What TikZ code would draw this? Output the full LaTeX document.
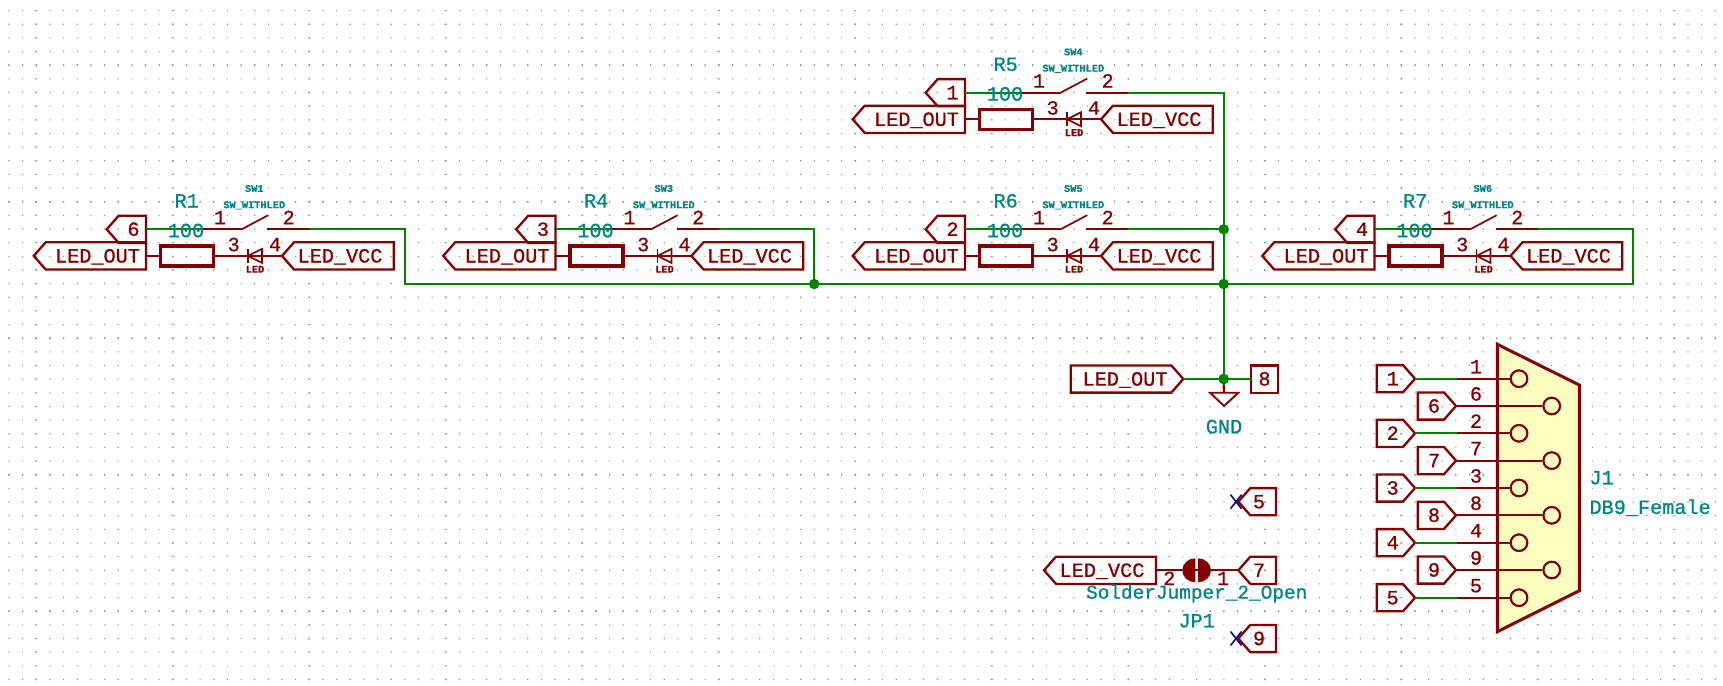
\documentclass[tikz,border=0pt]{standalone}
\usepackage{fontspec}
\newfontfamily\kfont[FakeBold=0.8]{Liberation Mono}
\newfontfamily\ksmall[FakeBold=0.8]{Liberation Mono Bold}
\definecolor{kred}{HTML}{840000}
\definecolor{kgreen}{HTML}{008400}
\definecolor{kteal}{HTML}{008484}
\definecolor{knavy}{HTML}{000084}
\definecolor{kfill}{HTML}{FFFFC2}
\definecolor{kdot}{HTML}{8C8C8C}
\tikzset{
  hierbox/.style={draw=kred,line width=2.3pt,line join=miter},
  wire/.style={draw=kgreen,line width=2.2pt,line join=miter},
  pinline/.style={draw=kred,line width=2.2pt},
  thinred/.style={draw=kred,line width=1.7pt},
  bigtxt/.style={font=\kfont\fontsize{20.2}{24}\selectfont,inner sep=0pt,anchor=base},
  smalltxt/.style={font=\kfont\bfseries\fontsize{10.3}{12}\selectfont,inner sep=0pt,anchor=base},
  symtxt/.style={bigtxt,text=kred},
  reftxt/.style={bigtxt,text=kteal},
  reftxtw/.style={bigtxt,text=kteal,anchor=base west},
  narrowtxt/.style={reftxt,font=\kfont\fontsize{19.4}{24}\selectfont},
  smalltxtr/.style={smalltxt,text=kred},
  smalltxtt/.style={smalltxt,text=kteal},
  junction/.style={circle,fill=kgreen,inner sep=0pt,minimum size=10.5pt},
  pincircle/.style={draw=kred,line width=2pt,fill=kfill,circle,inner sep=0pt,minimum size=16.5pt}
}
% big text centred vertically on cap height: name, x, y, style, text
\newcommand{\bt}[5]{\node[#4] (#1) at (#2,{#3+6.6}) {#5};}
\newcommand{\st}[5]{\node[#4] (#1) at (#2,{#3+3.3}) {#5};}
% hierarchical label pointing left: name, tipx, y, rightx, textx, text
\newcommand{\hierL}[6]{%
  \draw[hierbox] (#2,#3) -- ({#2+12},{#3-13.6}) -- (#4,{#3-13.6}) -- (#4,{#3+13.6}) -- ({#2+12},{#3+13.6}) -- cycle;
  \bt{#1}{#5}{#3}{symtxt}{#6}
  \coordinate (#1-tip) at (#2,#3);
  \coordinate (#1-end) at (#4,#3);}
% hierarchical label pointing right: name, leftx, y, tipx, textx, text
\newcommand{\hierR}[6]{%
  \draw[hierbox] (#2,{#3-13.6}) -- ({#4-12},{#3-13.6}) -- (#4,#3) -- ({#4-12},{#3+13.6}) -- (#2,{#3+13.6}) -- cycle;
  \bt{#1}{#5}{#3}{symtxt}{#6}
  \coordinate (#1-tip) at (#4,#3);}
% switch block: id, dx, dy, label number, ref R, ref SW
\newcommand{\swblock}[6]{%
 \begin{scope}[shift={(#2,#3)}]
  \hierL{#1-num}{925.7}{92.7}{965}{952.5}{#4}
  \hierL{#1-out}{852.7}{119.3}{965}{916.5}{LED\_OUT}
  \hierL{#1-vcc}{1101}{119.3}{1212.7}{1159}{LED\_VCC}
  \coordinate (#1-p1) at (1019.6,92.7);
  \coordinate (#1-a) at (1060.6,92.7);
  \coordinate (#1-b) at (1087,78.7);
  \coordinate (#1-c) at (1086,92.7);
  \coordinate (#1-p2) at (1128,92.7);
  \draw[wire] (#1-num-end) -- (#1-p1);
  \draw[pinline] (#1-p1) -- (#1-a);
  \draw[thinred] (#1-a) -- (#1-b);
  \draw[pinline] (#1-c) -- (#1-p2);
  \node[draw=kred,line width=3.2pt,minimum width=53pt,minimum height=20pt,inner sep=0pt] (#1-res) at (1006,119.3) {};
  \draw[pinline] (#1-out-end) -- (#1-res.west);
  \draw[pinline] (#1-res.east) -- (#1-vcc-tip);
  \draw[thinred] (1067,112.3) -- (1067,126.3);
  \draw[thinred] (1067,119.3) -- (1081,112.3) -- (1081,126.3) -- cycle;
  \bt{#1-rn}{1005.7}{64.3}{reftxt}{#5}
  \bt{#1-rv}{1005}{94}{reftxt}{100}
  \bt{#1-n1}{1039}{81}{symtxt}{1}
  \bt{#1-n2}{1107.7}{81}{symtxt}{2}
  \bt{#1-n3}{1052.7}{108}{symtxt}{3}
  \bt{#1-n4}{1094}{108}{symtxt}{4}
  \st{#1-sw}{1073.3}{52}{smalltxtt}{#6}
  \st{#1-swv}{1073.3}{68.3}{smalltxtt}{SW\_WITHLED}
  \st{#1-led}{1074}{132.7}{smalltxtr}{LED}
 \end{scope}}
% DB9 pin: id, pin y, number
\newcommand{\dbodd}[3]{%
  \node[pincircle] (pin#3) at (1519,#2) {};
  \hierR{lab#3}{1376.7}{#2}{1415}{1392.7}{#3}
  \coordinate (pinstart#3) at (1457.3,#2);
  \draw[wire] (lab#3-tip) -- (pinstart#3);
  \draw[pinline] (pinstart#3) -- (pin#3.west);
  \bt{num#3}{1476}{#2-12}{symtxt}{#3}}
\newcommand{\dbeven}[3]{%
  \node[pincircle] (pin#3) at (1551.7,#2) {};
  \hierR{lab#3}{1417.7}{#2}{1456}{1434}{#3}
  \draw[pinline] (lab#3-tip) -- (pin#3.west);
  \bt{num#3}{1476}{#2-12}{symtxt}{#3}}
\begin{document}
\begin{tikzpicture}[x=1pt,y=-1pt]
\useasboundingbox (0,0) rectangle (1723,685);
\fill[white] (0,0) rectangle (1723,685);
% grid
\fill[kdot] \foreach \i in {0,...,125}{ \foreach \j in {0,...,49}{
  ({9+\i*13.65-0.55},{10.6+\j*13.65-0.55}) rectangle ++(1.1,1.1) } };
\fill[kdot] \foreach \i in {0,...,12}{ \foreach \j in {0,...,49}{
  ({36.3+\i*136.5-0.9},{10.6+\j*13.65-0.55}) rectangle ++(1.8,1.1) } };
\fill[kdot] \foreach \j in {0,...,4}{ \foreach \i in {0,...,125}{
  ({9+\i*13.65-0.55},{65.2+\j*136.5-0.9}) rectangle ++(1.1,1.8) } };
% switch blocks
\swblock{R5}{0}{0}{1}{R5}{SW4}
\swblock{R6}{0}{136.6}{2}{R6}{SW5}
\swblock{R1}{-819}{136.6}{6}{R1}{SW1}
\swblock{R4}{-409.5}{136.6}{3}{R4}{SW3}
\swblock{R7}{409.5}{136.6}{4}{R7}{SW6}
% bus and junctions
\node[junction] (j6) at (1223.7,229.3) {};
\node[junction] (jb1) at (814.2,284) {};
\node[junction] (jb2) at (1223.7,284) {};
\node[junction] (jg) at (1223.7,379) {};
\coordinate (cornerR1) at (404.7,284);
\coordinate (cornerR7) at (1633.2,284);
\draw[wire] (R5-p2) -| (jg.center);
\draw[wire] (R6-p2) -- (j6.center);
\draw[wire] (R1-p2) -| (cornerR1) -- (cornerR7) |- (R7-p2);
\draw[wire] (R4-p2) -| (jb1.center);
% LED_OUT / GND / 8
\hierR{ledout}{1070.7}{379}{1183.3}{1125}{LED\_OUT}
\draw[hierbox] (1250.7,365.6) rectangle (1278.3,392.8);
\bt{lab8box}{1264.5}{379}{symtxt}{8}
\coordinate (lab8box-w) at (1250.7,379);
\draw[wire] (ledout-tip) -- (jg.center) -- (lab8box-w);
\node[junction] at (jg) {};
\coordinate (gndtop) at (1224,392.7);
\draw[pinline] (jg.south) -- (gndtop);
\draw[hierbox,line width=1.9pt] (1210,392.7) -- (1238.3,392.7) -- (1224,406) -- cycle;
\bt{gnd}{1224}{426.7}{reftxt}{GND}
% no connects
\hierL{nc5}{1238.3}{501.7}{1276}{1259}{5}
\hierL{nc9}{1238.3}{638.5}{1276}{1259}{9}
\foreach \yy in {501.7,638.5}{
  \draw[draw=knavy,line width=1.5pt] (1230.5,\yy-7) -- (1241.5,\yy+7);
  \draw[draw=knavy,line width=1.5pt] (1230.5,\yy+7) -- (1241.5,\yy-7);
}
% solder jumper
\hierL{jpvcc}{1044}{570.3}{1156}{1102}{LED\_VCC}
\hierL{lab7j}{1238.3}{570.3}{1276}{1259}{7}
\draw[pinline] (jpvcc-end) -- (lab7j-tip);
\fill[kred] (1195.3,582.3) arc[start angle=90,end angle=270,x radius=13,y radius=12] -- cycle;
\fill[kred] (1198,582.3) arc[start angle=90,end angle=-90,x radius=13,y radius=12] -- cycle;
\bt{jp2}{1169.3}{578.5}{symtxt}{2}
\bt{jp1}{1223}{578.5}{symtxt}{1}
\bt{jpv}{1196.7}{592}{narrowtxt}{SolderJumper\_2\_Open}
\bt{jpr}{1196.7}{620.7}{reftxt}{JP1}
% DB9
\path[fill=kfill] (1497.3,344.3) -- (1579.3,385) -- (1579.3,590.7) -- (1497.3,631.7) -- cycle;
\dbodd{a}{378.7}{1}
\dbeven{b}{406}{6}
\dbodd{c}{433.3}{2}
\dbeven{d}{460.6}{7}
\dbodd{e}{488}{3}
\dbeven{f}{515.3}{8}
\dbodd{g}{542.7}{4}
\dbeven{h}{570}{9}
\dbodd{i}{597.7}{5}
\draw[draw=kred,line width=3pt,line join=miter] (1497.3,344.3) -- (1579.3,385) -- (1579.3,590.7) -- (1497.3,631.7) -- cycle;
\foreach \n/\x/\y in {1/1519/378.7,6/1551.7/406,2/1519/433.3,7/1551.7/460.6,3/1519/488,8/1551.7/515.3,4/1519/542.7,9/1551.7/570,5/1519/597.7}{
  \node[pincircle] at (\x,\y) {};
}
\bt{j1}{1589.3}{477.7}{reftxtw}{J1}
\bt{j1v}{1589.3}{507.3}{reftxtw}{DB9\_Female}
\end{tikzpicture}
\end{document}
